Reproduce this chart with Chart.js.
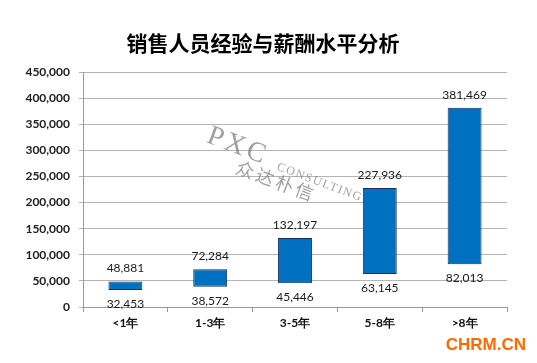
<!DOCTYPE html>
<html>
<head>
<meta charset="utf-8">
<script src="https://cdn.jsdelivr.net/npm/chart.js@4/dist/chart.umd.min.js"></script>
<style>
  html, body { margin: 0; padding: 0; background: #fff; }
  #wrap { width: 537px; height: 363px; position: relative; }
</style>
</head>
<body>
<div id="wrap"><canvas id="salaryChart"></canvas></div>
<script>
const chartTitle = '销售人员经验与薪酬水平分析';
const categories = ['<1年', '1-3年', '3-5年', '5-8年', '>8年'];
const lowValues = [32453, 38572, 45446, 63145, 82013];
const highValues = [48881, 72284, 132197, 227936, 381469];

const fmt = v => v.toLocaleString('en-US');

// value labels above / below each floating bar
const rangeLabels = {
  id: 'rangeLabels',
  afterDatasetsDraw(chart) {
    const { ctx, scales: { x, y } } = chart;
    ctx.save();
    ctx.font = '12px Lato';
    ctx.fillStyle = '#1a1a1a';
    ctx.textAlign = 'center';
    ctx.textBaseline = 'middle';
    categories.forEach((c, i) => {
      const px = x.getPixelForValue(i);
      ctx.fillText(fmt(highValues[i]), px, y.getPixelForValue(highValues[i]) - 13);
      ctx.fillText(fmt(lowValues[i]), px, y.getPixelForValue(lowValues[i]) + 14);
    });
    ctx.restore();
  }
};

// title, watermark, site mark
const marks = {
  id: 'marks',
  beforeDatasetsDraw(chart) {
    const ctx = chart.ctx;
    ctx.save();
    ctx.font = 'bold 21px "Noto Sans CJK SC"';
    ctx.fillStyle = '#000';
    ctx.textAlign = 'center';
    ctx.textBaseline = 'middle';
    ctx.fillText(chartTitle, 263, 43);
    ctx.restore();

    ctx.save();
    ctx.translate(213, 122);
    ctx.rotate(0.36);
    ctx.fillStyle = 'rgba(120,120,120,0.7)';
    ctx.textBaseline = 'top';
    ctx.font = '28px "Liberation Serif"';
    ctx.letterSpacing = '3px';
    ctx.fillText('PXC', 0, 0);
    ctx.font = '12px "Liberation Serif"';
    ctx.letterSpacing = '1.5px';
    ctx.fillText('CONSULTING', 76, 13);
    ctx.font = '18px "Noto Sans CJK SC"';
    ctx.letterSpacing = '3px';
    ctx.fillText('众达朴信', 38, 24);
    ctx.restore();
  },
  afterDraw(chart) {
    const ctx = chart.ctx;
    ctx.save();
    ctx.font = 'bold 17px "Liberation Sans"';
    ctx.fillStyle = '#FF6A00';
    ctx.textAlign = 'right';
    ctx.textBaseline = 'middle';
    ctx.fillText('CHRM.CN', 526, 345);
    ctx.restore();
  }
};

new Chart(document.getElementById('salaryChart'), {
  type: 'bar',
  data: {
    labels: categories,
    datasets: [{
      label: '薪酬范围',
      data: lowValues.map((v, i) => [v, highValues[i]]),
      backgroundColor: '#0070C0',
      borderColor: '#1B2F55',
      borderWidth: 1,
      borderSkipped: false,
      barPercentage: 0.4,
      categoryPercentage: 1
    }]
  },
  options: {
    responsive: true,
    maintainAspectRatio: false,
    animation: false,
    layout: { padding: { left: 0, right: 30, top: 72, bottom: 16 } },
    plugins: {
      legend: { display: false },
      tooltip: { enabled: false },
      title: { display: false }
    },
    scales: {
      x: {
        grid: { drawOnChartArea: false, color: '#999', tickLength: 5, offset: true },
        border: { color: '#999' },
        ticks: { color: '#111', font: { family: 'Lato', size: 12, weight: 'bold' }, padding: 4 },
        afterFit(s) { s.height = 40; }
      },
      y: {
        min: 0,
        max: 450000,
        grid: { color: '#B4B4B4', tickLength: 4 },
        border: { color: '#999' },
        ticks: {
          stepSize: 50000,
          color: '#222',
          font: { family: 'Lato', size: 12, weight: 'bold' },
          padding: 9,
          callback: v => fmt(v)
        },
        afterFit(s) { s.width = 83; }
      }
    }
  },
  plugins: [rangeLabels, marks]
});
</script>
</body>
</html>
